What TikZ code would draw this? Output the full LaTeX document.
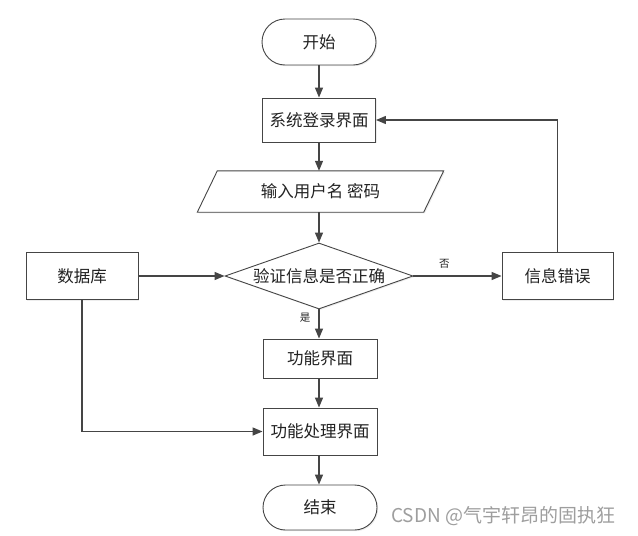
\documentclass[tikz,border=0pt]{standalone}
\usepackage{fontspec}
\setmainfont{Noto Sans CJK SC}
\usetikzlibrary{arrows.meta,shapes.geometric,shapes.misc,calc,shadows}
\definecolor{ln}{HTML}{454545}
\definecolor{tx}{HTML}{222222}
\begin{document}
\begin{tikzpicture}[x=1pt,y=-1pt,
  base/.style={draw=ln,fill=white,line width=0.9pt,text=tx,font=\fontsize{16.5}{19}\selectfont,inner sep=0pt,
     drop shadow={shadow xshift=1.2pt,shadow yshift=-1.2pt,fill=black,opacity=0.07}},
  boxn/.style={base,rectangle,minimum width=114pt,minimum height=45pt},
  term/.style={base,rounded rectangle,minimum width=114pt,minimum height=46pt},
  dec/.style={base,diamond,aspect=2.85,minimum width=188pt,minimum height=66pt},
  arr/.style={draw=ln,line width=1.3pt,-{Triangle[length=10pt,width=8pt]}},
  lbl/.style={text=tx,font=\fontsize{10.5}{12}\selectfont,inner sep=0pt}]
\useasboundingbox (0,0) rectangle (638,536);
\fill[white] (0,0) rectangle (638,536);
\node[term] (start) at (319,42) {开始};
\node[boxn,minimum width=113pt,minimum height=44pt] (login) at (319,120) {系统登录界面};
\node[inner sep=0pt,minimum width=226pt,minimum height=41pt] (inp) at (320.5,191.5) {};
\draw[ln,line width=0.9pt,drop shadow={shadow xshift=1.2pt,shadow yshift=-1.2pt,fill=black,opacity=0.07},fill=white]
  ($(inp.south west)+(-10,0)$) -- ($(inp.south east)+(-10,0)$) -- ($(inp.north east)+(10,0)$) -- ($(inp.north west)+(10,0)$) -- cycle;
\node[text=tx,font=\fontsize{16.5}{19}\selectfont,inner sep=0pt] (inptxt) at (inp.center) {输入用户名 密码};
\node[dec] (dia) at (319,276) {验证信息是否正确};
\node[boxn,minimum width=112pt,minimum height=47pt] (db) at (82,276) {数据库};
\node[boxn,minimum width=111pt,minimum height=47pt] (err) at (557.5,276) {信息错误};
\node[boxn,minimum width=114pt,minimum height=39pt] (func) at (320,358.5) {功能界面};
\node[boxn,minimum width=114pt,minimum height=47pt] (proc) at (320,431.5) {功能处理界面};
\node[term,minimum height=45pt] (end) at (320,507.5) {结束};
\draw[arr] (start.south) -- (login.north);
\draw[arr] (login.south) -- (login.south |- inp.north);
\draw[arr] (login.south |- inp.south) -- (dia.north);
\draw[arr] (dia.south) -- (dia.south |- func.north) node[lbl,pos=0.3,left=8pt] (yes) {是};
\draw[arr] (func.south -| dia.south) -- (dia.south |- proc.north);
\draw[arr] (proc.south -| dia.south) -- (dia.south |- end.north);
\draw[arr] (db.east) -- (dia.west);
\draw[arr] (dia.east) -- (err.west) node[lbl,pos=0.35,above=7pt] (no) {否};
\draw[arr] (err.north) -- (err.north |- login.east) -- (login.east);
\draw[arr] (db.south) -- (db.south |- proc.west) -- (proc.west);
\node[text=black!38,font=\fontsize{19}{22}\selectfont,inner sep=0pt,anchor=west] (wm) at (391,516) {CSDN @气宇轩昂的固执狂};
\end{tikzpicture}
\end{document}
